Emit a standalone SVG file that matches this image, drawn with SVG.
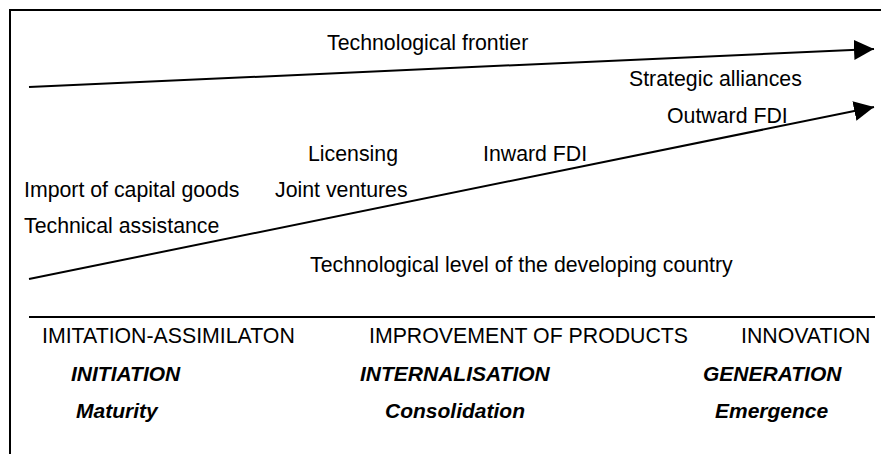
<svg xmlns="http://www.w3.org/2000/svg" width="881" height="454" viewBox="0 0 881 454">
  <style>
    .t { font-family: "Liberation Sans", Arial, sans-serif; font-size: 21.3px; fill: #000; }
    .b { font-family: "Liberation Sans", Arial, sans-serif; font-size: 21px; font-weight: bold; font-style: italic; fill: #000; }
    .ln { stroke: #000; stroke-width: 2; fill: none; }
  </style>
  <defs>
    <marker id="arr" markerUnits="userSpaceOnUse" markerWidth="21" markerHeight="21" refX="20" refY="10" orient="auto">
      <path d="M0,0 L20,10 L0,20 Z" fill="#000"/>
    </marker>
  </defs>
  <rect width="881" height="454" fill="#fff"/>
  <g id="frame">
    <path class="ln" d="M10,454 L10,10 L881,10"/>
  </g>
  <g id="connectors">
    <line class="ln" x1="29" y1="87" x2="874" y2="49" marker-end="url(#arr)"/>
    <line class="ln" x1="29" y1="279" x2="874" y2="107" marker-end="url(#arr)"/>
    <line class="ln" x1="29" y1="317" x2="875" y2="317"/>
  </g>
  <g id="frontier"><text class="t" x="327" y="50">Technological frontier</text></g>
  <g id="strategic-alliances"><text class="t" x="629" y="86">Strategic alliances</text></g>
  <g id="outward-fdi"><text class="t" x="667" y="123">Outward FDI</text></g>
  <g id="licensing"><text class="t" x="308" y="161">Licensing</text></g>
  <g id="inward-fdi"><text class="t" x="483" y="161">Inward FDI</text></g>
  <g id="import"><text class="t" x="24" y="197">Import of capital goods</text></g>
  <g id="joint-ventures"><text class="t" x="275" y="197">Joint ventures</text></g>
  <g id="technical-assistance"><text class="t" x="24" y="233">Technical assistance</text></g>
  <g id="level"><text class="t" x="310" y="272">Technological level of the developing country</text></g>
  <g id="stage1">
    <text class="t" x="42" y="343">IMITATION-ASSIMILATON</text>
    <text class="b" x="71" y="381">INITIATION</text>
    <text class="b" x="76" y="418">Maturity</text>
  </g>
  <g id="stage2">
    <text class="t" x="369" y="343">IMPROVEMENT OF PRODUCTS</text>
    <text class="b" x="360" y="381">INTERNALISATION</text>
    <text class="b" x="385" y="418">Consolidation</text>
  </g>
  <g id="stage3">
    <text class="t" x="741" y="343">INNOVATION</text>
    <text class="b" x="703" y="381">GENERATION</text>
    <text class="b" x="715" y="418">Emergence</text>
  </g>
</svg>
